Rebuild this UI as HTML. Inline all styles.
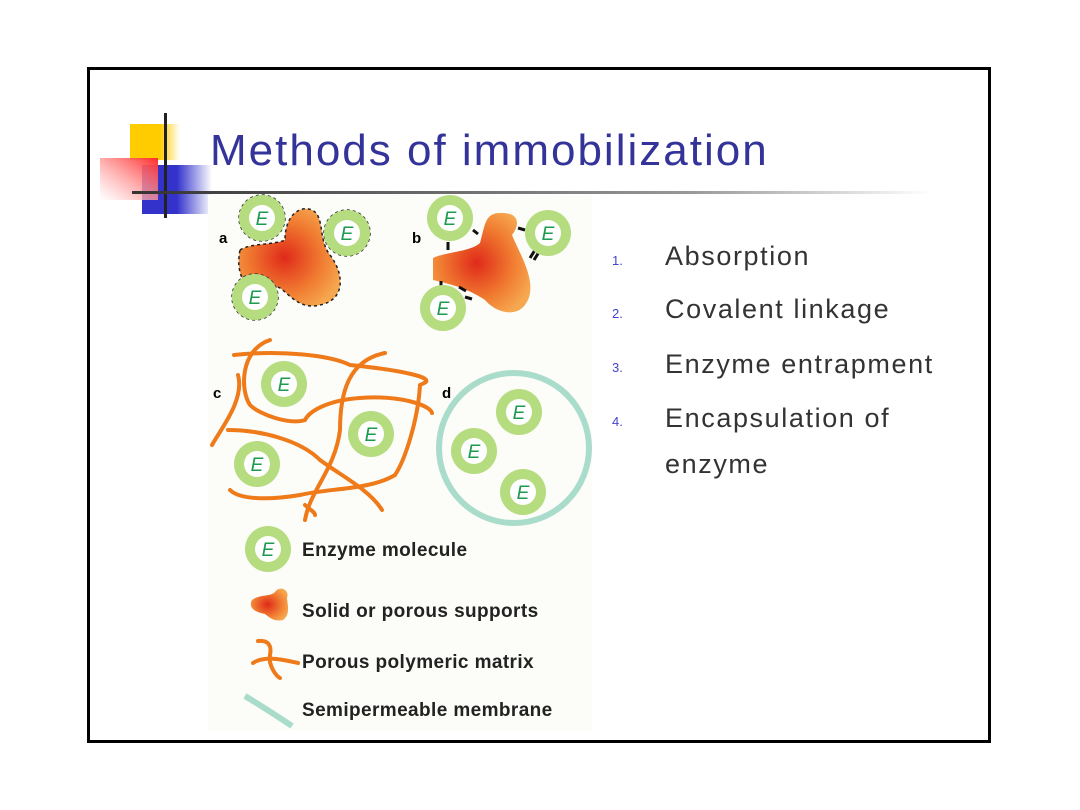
<!DOCTYPE html>
<html><head><meta charset="utf-8"><style>
html,body{margin:0;padding:0;background:#fff;}
svg{display:block;}
</style></head><body>
<svg width="1080" height="810" viewBox="0 0 1080 810" xmlns="http://www.w3.org/2000/svg">
<defs>
<linearGradient id="rule" x1="0" x2="1"><stop offset="0" stop-color="#333"/><stop offset="0.7" stop-color="#999"/><stop offset="1" stop-color="#fff"/></linearGradient>
<linearGradient id="yel" x1="0" x2="1"><stop offset="0.6" stop-color="#ffcc00"/><stop offset="1" stop-color="#fff"/></linearGradient>
<linearGradient id="red" x1="1" x2="0" y1="0" y2="1"><stop offset="0" stop-color="#ff2a2a"/><stop offset="1" stop-color="#fff" stop-opacity="0.6"/></linearGradient>
<linearGradient id="blu" x1="0" x2="1"><stop offset="0.5" stop-color="#3333cc"/><stop offset="1" stop-color="#fff"/></linearGradient>
<radialGradient id="sup" cx="0.45" cy="0.5" r="0.6"><stop offset="0" stop-color="#e02a1a"/><stop offset="0.6" stop-color="#f07a30"/><stop offset="1" stop-color="#f6a850"/></radialGradient>
<g id="enz"><circle r="23" fill="#b5dc7f"/><circle r="13" fill="#fff"/><text x="0" y="7" text-anchor="middle" font-family="Liberation Sans, sans-serif" font-style="italic" font-size="19" fill="#1c9a50">E</text></g>
</defs>
<rect x="88.5" y="68.5" width="901" height="673" fill="#fff" stroke="#000" stroke-width="3"/>
<rect x="130" y="124" width="50" height="36" fill="url(#yel)"/>
<rect x="142" y="165" width="70" height="49" fill="url(#blu)"/>
<rect x="100" y="158" width="58" height="42" fill="url(#red)"/>
<rect x="164" y="113" width="3" height="105" fill="#222"/>
<rect x="132" y="191" width="800" height="3" fill="url(#rule)"/>
<text x="210" y="165" font-family="Liberation Sans, sans-serif" font-size="44" fill="#333399" letter-spacing="2">Methods of immobilization</text>
<rect x="208" y="195" width="384" height="535" fill="#fcfcf8"/>
<!-- a -->
<text x="219" y="243" font-family="Liberation Sans, sans-serif" font-weight="bold" font-size="15">a</text>
<path d="M240,250 C250,243 275,245 285,240 C285,215 300,205 312,210 C325,216 318,240 330,255 C345,275 345,300 320,305 C300,310 290,295 280,288 C270,283 258,285 243,280 C238,270 238,260 240,250 Z" fill="url(#sup)" stroke="#222" stroke-width="1.5" stroke-dasharray="3 3"/>
<g stroke="#333" stroke-width="1.5" stroke-dasharray="3 3"><circle cx="262" cy="218" r="23" fill="#b5dc7f"/><circle cx="347" cy="233" r="23" fill="#b5dc7f"/><circle cx="255" cy="297" r="23" fill="#b5dc7f"/></g>
<use href="#enz" x="262" y="218"/><use href="#enz" x="347" y="233"/><use href="#enz" x="255" y="297"/>
<!-- b -->
<text x="412" y="243" font-family="Liberation Sans, sans-serif" font-weight="bold" font-size="15">b</text>
<path d="M433,258 C445,252 470,252 480,243 C485,225 485,213 500,213 C520,212 520,225 512,235 C520,255 540,285 525,305 C515,318 495,312 485,300 C470,290 455,285 433,280 Z" fill="url(#sup)"/>
<g stroke="#111" stroke-width="3"><line x1="448" y1="242" x2="448" y2="250"/><line x1="473" y1="230" x2="478" y2="234"/><line x1="518" y1="228" x2="525" y2="230"/><line x1="530" y1="258" x2="535" y2="250"/><line x1="534" y1="260" x2="539" y2="252"/><line x1="441" y1="281" x2="441" y2="288"/><line x1="459" y1="287" x2="466" y2="291"/><line x1="465" y1="297" x2="472" y2="299"/></g>
<use href="#enz" x="450" y="218"/><use href="#enz" x="548" y="233"/><use href="#enz" x="443" y="308"/>
<!-- c -->
<text x="213" y="398" font-family="Liberation Sans, sans-serif" font-weight="bold" font-size="15">c</text>
<use href="#enz" x="284" y="384"/><use href="#enz" x="371" y="434"/><use href="#enz" x="257" y="464"/>
<g fill="none" stroke="#ee7a1a" stroke-width="4" stroke-linecap="round">
<path d="M234,355 C280,350 330,355 350,365 C400,370 440,378 422,384"/>
<path d="M270,340 C240,350 240,390 250,405 C260,415 290,425 305,420 C310,410 330,400 360,398 C400,395 430,405 432,413"/>
<path d="M238,375 C245,400 220,430 212,445"/>
<path d="M228,430 C260,430 300,440 320,460 C340,475 370,490 382,510"/>
<path d="M385,353 C350,360 340,390 340,430 C335,470 310,490 305,520"/>
<path d="M420,385 C418,420 405,460 395,475 C370,490 330,488 300,495 C270,500 240,500 230,490"/>
<path d="M305,505 C310,510 315,512 315,515"/>
</g>
<!-- d -->
<text x="442" y="398" font-family="Liberation Sans, sans-serif" font-weight="bold" font-size="15">d</text>
<circle cx="514" cy="448" r="75" fill="none" stroke="#a9dccb" stroke-width="6"/>
<use href="#enz" x="519" y="412"/><use href="#enz" x="474" y="451"/><use href="#enz" x="523" y="492"/>
<!-- legend -->
<use href="#enz" x="268" y="549"/>
<path d="M252,600 C260,594 270,597 275,592 C280,585 290,590 287,598 C288,607 290,615 283,620 C275,622 270,618 265,614 C255,612 248,608 252,600 Z" fill="url(#sup)"/>
<g fill="none" stroke="#ee7a1a" stroke-width="4" stroke-linecap="round"><path d="M258,641 C268,640 272,645 270,655 C268,665 276,676 280,678"/><path d="M253,663 C265,655 285,660 298,663"/></g>
<path d="M245,696 C260,705 280,718 292,726" fill="none" stroke="#a9dccb" stroke-width="6"/>
<g font-family="Liberation Sans, sans-serif" font-weight="bold" font-size="19" fill="#222" letter-spacing="0.4">
<text x="302" y="556">Enzyme molecule</text>
<text x="302" y="617">Solid or porous supports</text>
<text x="302" y="668">Porous polymeric matrix</text>
<text x="302" y="716">Semipermeable membrane</text>
</g>
<g font-family="Liberation Sans, sans-serif" font-size="13" fill="#4444cc">
<text x="612" y="265">1.</text><text x="612" y="318">2.</text><text x="612" y="372">3.</text><text x="612" y="426">4.</text></g>
<g font-family="Liberation Sans, sans-serif" font-size="27" fill="#333" letter-spacing="1.6">
<text x="665" y="265">Absorption</text>
<text x="665" y="318">Covalent linkage</text>
<text x="665" y="373">Enzyme entrapment</text>
<text x="665" y="427">Encapsulation of</text>
<text x="665" y="473">enzyme</text>
</g>
</svg>
</body></html>
